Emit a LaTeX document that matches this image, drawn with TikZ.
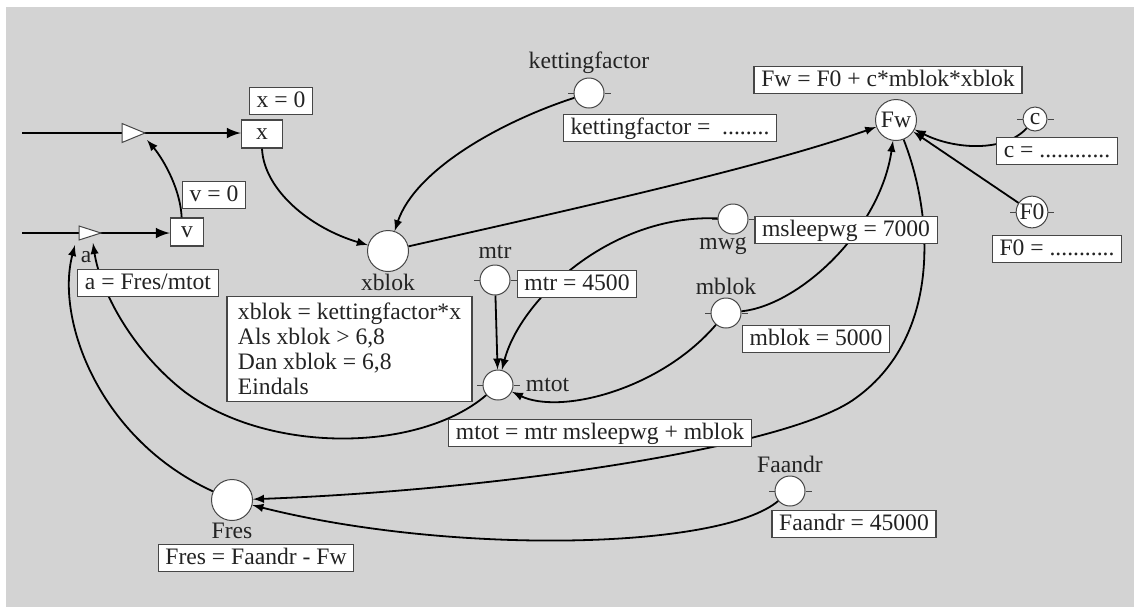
\documentclass[tikz,border=0pt]{standalone}
\usepackage{fontspec}
\setmainfont{Liberation Serif}
\usepackage{tikz}
\tikzset{>=latex}
\definecolor{achtergrond}{RGB}{211,211,211}
\definecolor{rand}{RGB}{70,70,70}
\definecolor{tekst}{RGB}{35,35,35}
\tikzset{
  vgl/.style={draw=rand, fill=white, line width=0.7pt, inner xsep=3.6pt, inner ysep=1.2pt, text height=8.6pt, text depth=2.6pt},
  vglblok/.style={draw=rand, fill=white, line width=0.7pt, align=left, inner xsep=5.5pt, inner ysep=3.3pt, font=\fontsize{11.8}{12.5}\selectfont},
  grootheid/.style={circle, draw=rand, fill=white, line width=0.5pt, inner sep=0pt, minimum size=20.5pt},
  constante/.style={circle, draw=rand, fill=white, line width=0.5pt, inner sep=0pt, minimum size=15pt},
  klein/.style={circle, draw=rand, fill=white, line width=0.5pt, inner sep=0.4pt, minimum size=12pt},
  voorraad/.style={draw=rand, fill=white, line width=0.7pt, minimum height=14pt, inner sep=0pt},
  klep/.style={draw=rand, fill=white, line width=0.5pt},
  pijl/.style={->, line width=0.9pt},
  stroom/.style={->, line width=1.4pt},
}
\begin{document}
\begin{tikzpicture}[x=0.5pt, y=-0.5pt, font=\fontsize{11.8}{14}\selectfont, text=tekst]
\useasboundingbox (0,0) rectangle (1134,607);
\fill[achtergrond] (6,7) rectangle (1134,607);
% voorraden en grootheden
\node[voorraad, minimum width=20.5pt] (x) at (262,134) {x};
\node[voorraad, minimum width=16.5pt] (v) at (187,232) {v};
\node[grootheid, label={[inner sep=1pt]below:xblok}] (xblok) at (388,251) {};
\node[grootheid] (fw) at (896,120) {Fw};
\node[grootheid, label={[inner sep=1pt]below:Fres}] (fres) at (232,500) {};
\node[constante, label={[inner sep=2pt]above:kettingfactor}] (kf) at (589,93) {};
\node[constante, label={[inner sep=1pt, xshift=-5pt]below:mwg}] (mwg) at (733,219) {};
\node[constante, label={[inner sep=2.5pt]above:mtr}] (mtr) at (495,280) {};
\node[constante, label={[inner sep=1pt]above:mblok}] (mblok) at (726,313) {};
\node[constante, label={[inner sep=1pt, label distance=5pt]right:mtot}] (mtot) at (498,385) {};
\node[constante, label={[inner sep=1pt]above:Faandr}] (fa) at (790,491) {};
\node[klein] (c) at (1035,119) {c};
\node[klein] (fnul) at (1032,212) {F0};
\foreach \n in {kf,mwg,mtr,mblok,mtot,fa,c,fnul}
  \draw[rand, line width=0.5pt] (\n.west) -- ++(-6,0) (\n.east) -- ++(6,0);
% stromen
\coordinate (xin) at (22,133);
\coordinate (vin) at (22,233);
\coordinate (kx) at (133,133);
\coordinate (kv) at (90,233);
\coordinate (xtoe) at (147,140);
\coordinate (atoe) at (75,245);
\coordinate (atoe2) at (93,243);
\draw[stroom] (xin) -- (xin -| x.west);
\draw[stroom] (vin) -- (vin -| v.west);
\draw[klep] (kx) ++(-11,-9.5) -- ++(23,9.5) -- ++(-23,9.5) -- cycle;
\draw[klep] (kv) ++(-11,-7) -- ++(22,7) -- ++(-22,7) -- cycle;
% verbindingen
\draw[pijl] (v.110) .. controls (180,185) and (160,155) .. (xtoe);
\draw[pijl] (x.south) .. controls (264,190) and (310,228) .. (xblok);
\draw[pijl] (kf) .. controls (500,122) and (415,170) .. (xblok);
\draw[pijl] (xblok) .. controls (560,212) and (760,168) .. (fw);
\draw[pijl] (mblok) .. controls (800,305) and (880,230) .. (fw);
\draw[pijl] (fnul) -- (fw);
\draw[pijl] (c) .. controls (1005,152) and (955,150) .. (fw);
\draw[pijl] (mtr) -- (mtot);
\draw[pijl] (mwg) .. controls (610,214) and (520,300) .. (mtot);
\draw[pijl] (mblok) .. controls (660,390) and (560,415) .. (mtot);
\draw[pijl] (mtot) .. controls (420,452) and (270,455) .. (185,392) .. controls (132,351) and (100,290) .. (atoe2);
\draw[pijl] (fres) .. controls (100,440) and (55,320) .. (atoe);
\draw[pijl] (fw) .. controls (935,220) and (940,340) .. (853,400) .. controls (783,448) and (500,490) .. (fres);
\draw[pijl] (fa) .. controls (720,550) and (450,555) .. (fres);
% vergelijkingen
\node[vgl] (xnul) at (281,101) {x = 0};
\node[vgl] (vnul) at (214,195) {v = 0};
\node (alabel) at (86,257) {a};
\node[vgl] (aeq) at (148,283) {a = Fres/mtot};
\node[vglblok] (xblokeq) at (349.5,349) {xblok = kettingfactor*x\\Als xblok > 6,8\\Dan xblok = 6,8\\Eindals};
\node[vgl] (kfeq) at (670,128) {kettingfactor = \ ........};
\node[vgl] (fweq) at (888,80) {Fw = F0 + c*mblok*xblok};
\node[vgl] (ceq) at (1057,151) {c = ............};
\node[vgl] (fnuleq) at (1057,249) {F0 = ...........};
\node[vgl] (mwgeq) at (846,230) {msleepwg = 7000};
\node[vgl] (mtreq) at (577,284) {mtr = 4500};
\node[vgl] (mblokeq) at (816,339) {mblok = 5000};
\node[vgl] (mtoteq) at (600,433) {mtot = mtr msleepwg + mblok};
\node[vgl] (freseq) at (256,558) {Fres = Faandr - Fw};
\node[vgl] (faeq) at (854,524) {Faandr = 45000};
\end{tikzpicture}
\end{document}
